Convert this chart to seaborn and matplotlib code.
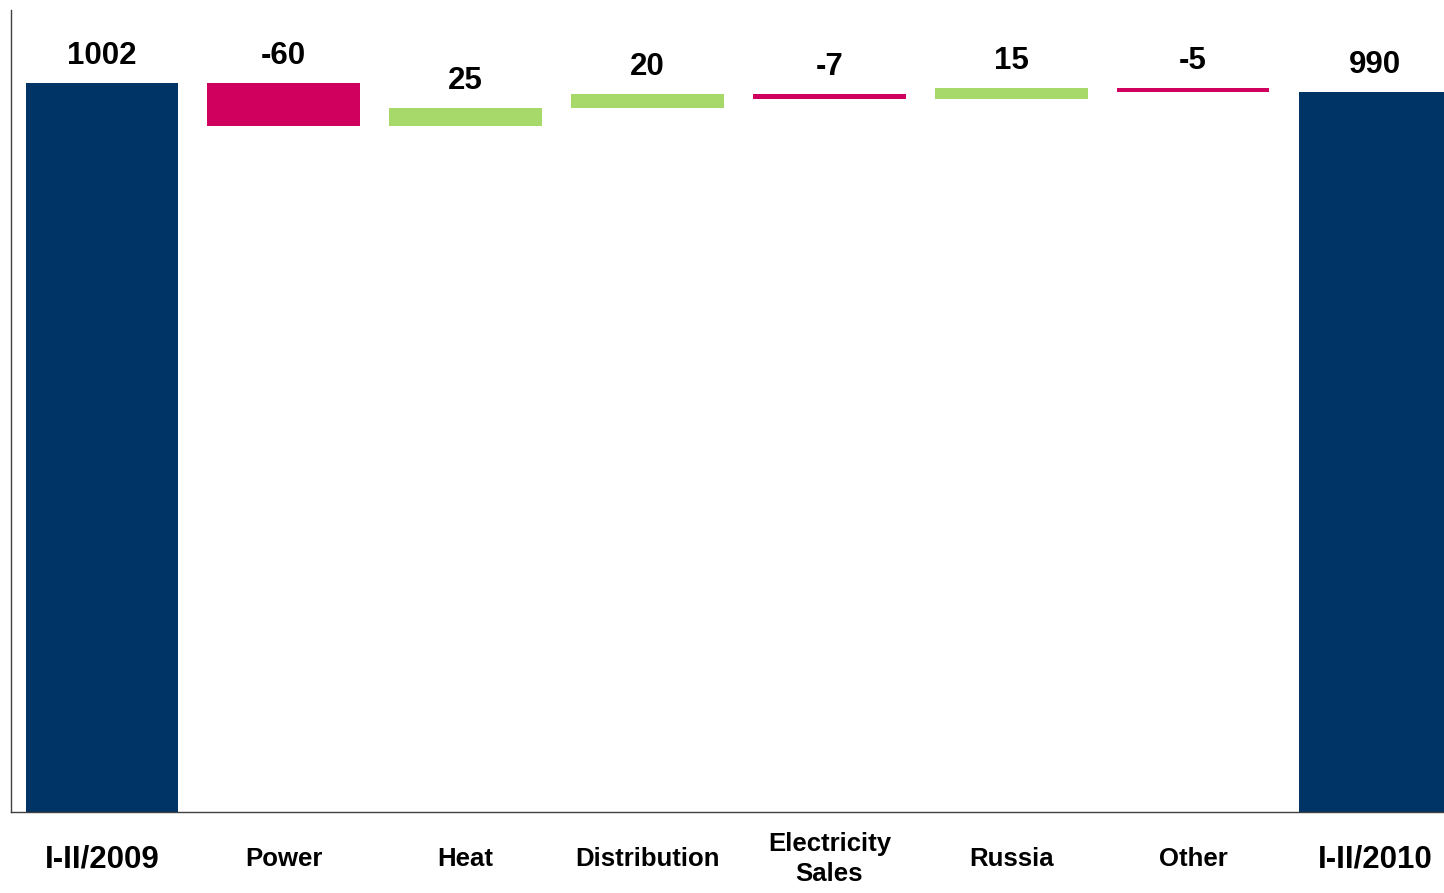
import seaborn as sns
import matplotlib.pyplot as plt
import pandas as pd

# Données du graphique (waterfall)
categories = ["I-II/2009", "Power", "Heat", "Distribution", "Electricity\nSales", "Russia", "Other", "I-II/2010"]
deltas = [1002, -60, 25, 20, -7, 15, -5, 990]
kinds = ["total", "delta", "delta", "delta", "delta", "delta", "delta", "total"]

colors = {"total": "#003366", "up": "#A6D96A", "down": "#D0005F"}

# Calcul des bases / hauteurs
bottoms, heights, fills = [], [], []
level = 0
for d, k in zip(deltas, kinds):
    if k == "total":
        bottoms.append(0)
        heights.append(d)
        fills.append(colors["total"])
        level = d
    else:
        new = level + d
        bottoms.append(min(level, new))
        heights.append(abs(d))
        fills.append(colors["up"] if d > 0 else colors["down"])
        level = new
tops = [b + h for b, h in zip(bottoms, heights)]

df = pd.DataFrame({"cat": categories, "height": heights})

sns.set_theme(style="white")
plt.rcParams['font.family'] = ['Liberation Sans', 'DejaVu Sans']

fig = plt.figure(figsize=(14.44, 8.93), dpi=100)
ax = fig.add_axes([11 / 1444, 81 / 893, 1433 / 1444, 802 / 893])

sns.barplot(data=df, x="cat", y="height", order=categories, bottom=bottoms,
            errorbar=None, width=0.84, ax=ax, color=colors["total"])
for p, c in zip(ax.patches, fills):
    p.set_facecolor(c)
    p.set_edgecolor("none")

# Etiquettes de valeurs
for i, (d, t) in enumerate(zip(deltas, tops)):
    ax.annotate(str(d), (i, t), xytext=(0, 13.5), textcoords="offset points",
                ha="center", va="baseline", fontsize=22.5, fontweight="bold", color="black")

ax.set_ylim(0, 1102)
ax.set_xlim(-0.5, 7.38)
ax.set_xlabel("")
ax.set_ylabel("")
ax.set_yticks([])
ax.tick_params(axis="x", length=0, pad=34)

for lab, k in zip(ax.get_xticklabels(), kinds):
    lab.set_fontweight("bold")
    lab.set_color("black")
    lab.set_verticalalignment("center")
    lab.set_linespacing(1.3)
    lab.set_fontsize(22.5 if k == "total" else 18.5)

for s in ["top", "right"]:
    ax.spines[s].set_visible(False)
for s in ["left", "bottom"]:
    ax.spines[s].set_color("#404040")
    ax.spines[s].set_linewidth(1.0)

plt.savefig("out.png", dpi=100)
